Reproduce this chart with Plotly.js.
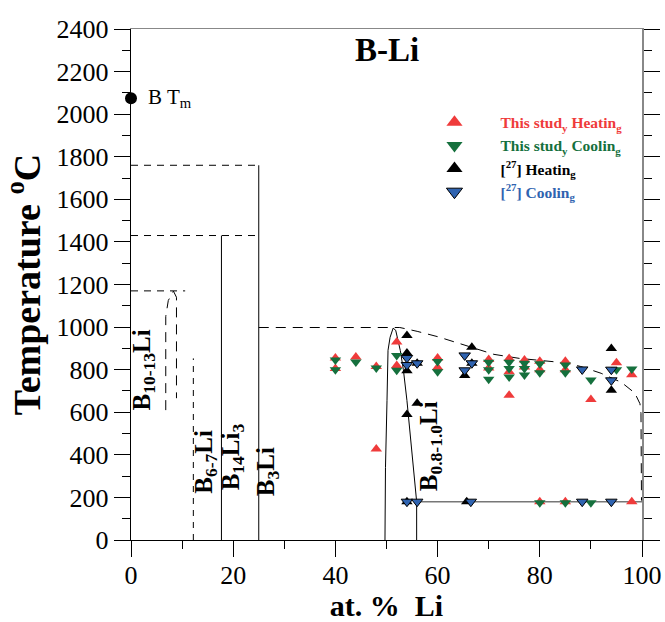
<!DOCTYPE html>
<html><head><meta charset="utf-8">
<script src="https://cdn.plot.ly/plotly-3.0.1.min.js"></script>
<style>html,body{margin:0;padding:0;background:#fff}#chart{width:665px;height:622px}</style>
</head><body><div id="chart"></div>
<script>
// ---- Measured data (at.% Li, temperature °C) ----
const heatingX = [40, 40, 44, 48, 48, 52, 52, 60, 60, 70, 70, 74, 74, 74, 77, 77, 80, 80, 85, 85, 90, 95, 98, 80, 85, 98];
const heatingT = [855, 805, 859, 815, 427, 930, 820, 855, 810, 848, 808, 853, 790, 680, 845, 812, 840, 800, 840, 800, 660, 832, 776, 180, 180, 180];
const coolingX = [40, 40, 44, 48, 52, 52, 60, 60, 70, 70, 70, 74, 74, 74, 77, 77, 77, 80, 80, 85, 85, 90, 95, 98, 80, 85, 90];
const coolingT = [845, 800, 836, 808, 867, 797, 838, 790, 835, 800, 755, 835, 805, 765, 830, 805, 775, 828, 785, 822, 785, 752, 800, 803, 175, 175, 175];
const ref27HeatX = [54, 54, 54, 54, 56, 56, 66.7, 66.7, 65.3, 94, 94, 54, 65.7];
const ref27HeatT = [960, 878, 795, 590, 830, 642, 905, 830, 773, 900, 703, 180, 180];
const ref27CoolX = [54, 54, 56, 65.3, 66.7, 65.3, 88.3, 94, 94, 54, 56, 66.5, 88.3, 94];
const ref27CoolT = [855, 822, 830, 867, 830, 797, 801, 800, 750, 180, 180, 180, 180, 180];
const boronMeltX = [0];
const boronMeltT = [2075];

// ---- Phase-diagram lines ----
const b3LiX = [25, 25],        b3LiT = [0, 1760];
const dash1760X = [0, 25],     dash1760T = [1760, 1760];
const dash1430X = [0, 25],     dash1430T = [1430, 1430];
const b14Li3X = [17.7, 17.7],  b14Li3T = [0, 1430];
const dash1170X = [0, 10.6],   dash1170T = [1170, 1170];
const peakLeftX = [6.8, 6.8, 7.3, 8.3],  peakLeftT = [610, 1050, 1125, 1169];
const peakRightX = [8.3, 8.9, 8.9],      peakRightT = [1169, 1140, 666];
const b67LiX = [12.2, 12.2],   b67LiT = [0, 853];
const liquidusX = [25, 52.6, 56, 60, 66, 71, 76, 81, 85, 88, 92, 96, 98.6, 99.6, 99.8, 99.9];
const liquidusT = [998, 998, 980, 955, 910, 872, 853, 840, 832, 815, 783, 740, 690, 640, 595, 185];
const phaseLeftX = [49.7, 49.8, 50.1, 50.3, 50.7, 51.3];
const phaseLeftT = [0, 340, 656, 891, 952, 995];
const phaseRightX = [51.3, 51.8, 52.7, 53.3, 54, 55.2, 55.9, 55.9];
const phaseRightT = [995, 985, 890, 800, 655, 340, 180, 0];
const solidusX = [55.9, 100], solidusT = [180, 180];

const FONT = 'Liberation Serif, Times New Roman, serif';
const RED = '#ef3b3b', GREEN = '#15703d', BLUE = '#2f63b0';

function ln(x, y, dash, color, width) {
  return {x: x, y: y, mode: 'lines', type: 'scatter', showlegend: false, hoverinfo: 'skip',
    line: {color: color || '#000', width: width || 1, dash: dash || 'solid'}};
}
const D1 = '7px,6px', D2 = '10px,7px';
const traces = [
  ln(b3LiX, b3LiT), ln(dash1760X, dash1760T, D1), ln(dash1430X, dash1430T, D1),
  ln(b14Li3X, b14Li3T), ln(dash1170X, dash1170T, D1),
  ln(peakLeftX, peakLeftT, D2), ln(peakRightX, peakRightT, D2),
  ln(b67LiX, b67LiT, '6px,6px'), ln(liquidusX, liquidusT, D2),
  ln(phaseLeftX, phaseLeftT), ln(phaseRightX, phaseRightT),
  ln(solidusX, solidusT, 'solid', '#777', 1.6),
  {x: heatingX, y: heatingT, mode: 'markers', type: 'scatter', showlegend: false,
   marker: {symbol: 'triangle-up', size: 10, color: RED}},
  {x: coolingX, y: coolingT, mode: 'markers', type: 'scatter', showlegend: false,
   marker: {symbol: 'triangle-down', size: 10, color: GREEN}},
  {x: ref27HeatX, y: ref27HeatT, mode: 'markers', type: 'scatter', showlegend: false,
   marker: {symbol: 'triangle-up', size: 10, color: '#000'}},
  {x: ref27CoolX, y: ref27CoolT, mode: 'markers', type: 'scatter', showlegend: false,
   marker: {symbol: 'triangle-down', size: 10, color: BLUE, line: {color: '#000', width: 1}}},
  {x: boronMeltX, y: boronMeltT, mode: 'markers', type: 'scatter', showlegend: false, cliponaxis: false,
   marker: {symbol: 'circle', size: 12, color: '#000'}},
  // legend-only entries
  {x: [null], y: [null], mode: 'markers', type: 'scatter', name: '<span style="color:' + RED + '">This stud<sub>y</sub> Heatin<sub>g</sub></span>',
   marker: {symbol: 'triangle-up', size: 14, color: RED}},
  {x: [null], y: [null], mode: 'markers', type: 'scatter', name: '<span style="color:' + GREEN + '">This stud<sub>y</sub> Coolin<sub>g</sub></span>',
   marker: {symbol: 'triangle-down', size: 14, color: GREEN}},
  {x: [null], y: [null], mode: 'markers', type: 'scatter', name: '[<sup>27</sup>] Heatin<sub>g</sub>',
   marker: {symbol: 'triangle-up', size: 14, color: '#000'}},
  {x: [null], y: [null], mode: 'markers', type: 'scatter', name: '<span style="color:' + BLUE + '">[<sup>27</sup>] Coolin<sub>g</sub></span>',
   marker: {symbol: 'triangle-down', size: 14, color: BLUE, line: {color: '#000', width: 1}}},
  {x: [], y: [], yaxis: 'y2', type: 'scatter', showlegend: false},
  {x: [], y: [], xaxis: 'x2', type: 'scatter', showlegend: false}
];

function lab(x, y, text, size) {
  return {x: x, y: y, xref: 'x', yref: 'y', text: text, showarrow: false, textangle: -90,
    font: {family: FONT, size: size || 25, color: '#000', weight: 'bold'}};
}

const layout = {
  width: 665, height: 622,
  margin: {l: 131, r: 23, t: 29, b: 82},
  paper_bgcolor: '#fff', plot_bgcolor: '#fff',
  font: {family: FONT, color: '#000'},
  showlegend: true,
  legend: {x: 0.543, y: 0.85, xanchor: 'left', yanchor: 'top', bgcolor: 'rgba(0,0,0,0)',
    itemwidth: 82, tracegroupgap: 0, font: {family: FONT, size: 15.5, color: '#000', weight: 'bold'}},
  xaxis: {range: [0, 100], dtick: 20, ticks: 'outside', ticklen: 16, tickwidth: 1, tickcolor: '#000',
    minor: {dtick: 10, ticklen: 8, ticks: 'outside', tickcolor: '#000'},
    showline: true, linecolor: '#000', linewidth: 1.3, showgrid: false, zeroline: false,
    tickfont: {family: FONT, size: 26}, ticklabelstandoff: -5,
    title: {text: 'at. %\u00a0\u00a0Li', font: {family: FONT, size: 30, weight: 'bold'}, standoff: 14}},
  yaxis: {range: [0, 2400], dtick: 200, ticks: 'outside', ticklen: 16, tickwidth: 1, tickcolor: '#000',
    minor: {dtick: 100, ticklen: 8, ticks: 'outside', tickcolor: '#000'},
    showline: true, linecolor: '#000', linewidth: 1.3, showgrid: false, zeroline: false,
    tickfont: {family: FONT, size: 26},
    title: {text: 'Temperature <sup>o</sup>C', font: {family: FONT, size: 38, weight: 'bold'}, standoff: 10}},
  yaxis2: {overlaying: 'y', side: 'right', range: [0, 2400], dtick: 200, ticks: 'outside', ticklen: 16,
    minor: {dtick: 100, ticklen: 8, ticks: 'outside', tickcolor: '#000'}, tickcolor: '#000',
    showline: true, linecolor: '#888', linewidth: 2, showticklabels: false, showgrid: false, zeroline: false},
  xaxis2: {overlaying: 'x', side: 'top', range: [0, 100], ticks: '', showline: true, linecolor: '#888',
    linewidth: 1.5, showticklabels: false, showgrid: false, zeroline: false},
  annotations: [
    {xref: 'paper', yref: 'paper', x: 0.5, y: 0.959, yanchor: 'middle', text: 'B-Li', showarrow: false,
     font: {family: FONT, size: 33, weight: 'bold', color: '#000'}},
    {xref: 'x', yref: 'y', x: 3, y: 2075, xanchor: 'left', text: 'B T<sub>m</sub>', showarrow: false,
     font: {family: FONT, size: 21, color: '#000'}},
    lab(2.5, 800, 'B<sub>10-13</sub>Li'),
    lab(14.4, 366, 'B<sub>6-7</sub>Li'),
    lab(19.8, 389, 'B<sub>14</sub>Li<sub>3</sub>'),
    lab(26.6, 323, 'B<sub>3</sub>Li'),
    lab(58.5, 440, 'B<sub>0.8-1.0</sub>Li')
  ]
};

Plotly.newPlot('chart', traces, layout, {displayModeBar: false, staticPlot: true});
</script>
</body></html>
